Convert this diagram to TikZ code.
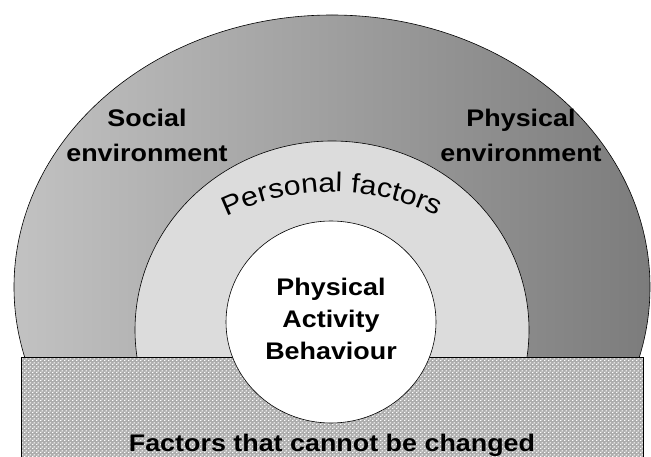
\documentclass[tikz,border=0pt]{standalone}
\usepackage{fontspec}
\setmainfont{Liberation Sans}[FakeStretch=1.12]
\usetikzlibrary{decorations.text,patterns}
\definecolor{ringL}{RGB}{194,194,194}
\definecolor{ringR}{RGB}{124,124,124}
\definecolor{midgray}{RGB}{220,220,220}
\definecolor{patbase}{RGB}{172,172,172}
\pgfdeclarepatternformonly{chkdots}{\pgfqpoint{0pt}{0pt}}{\pgfqpoint{4pt}{4pt}}{\pgfqpoint{4pt}{4pt}}{%
  \pgfpathrectangle{\pgfqpoint{0pt}{0pt}}{\pgfqpoint{1.8pt}{1.3pt}}%
  \pgfpathrectangle{\pgfqpoint{2pt}{2pt}}{\pgfqpoint{1.8pt}{1.3pt}}%
  \pgfusepath{fill}}
\tikzset{
  lbl/.style={font=\bfseries\fontsize{24}{35}\selectfont, align=center, inner sep=0pt},
  ctr/.style={font=\bfseries\fontsize{24}{31.5}\selectfont, align=center, inner sep=0pt},
  outline/.style={draw=black, line width=0.6pt}
}
\begin{document}
\begin{tikzpicture}[x=1pt,y=-1pt]
\useasboundingbox (0,0) rectangle (651,457);
\clip (0,0) rectangle (651,457);
\fill[white] (0,0) rectangle (651,457);
% outer ring (environment)
\shadedraw[outline, left color=ringL, right color=ringR] (332,287) ellipse [x radius=318, y radius=272];
% personal factors ring
\filldraw[outline, fill=midgray] (332,330) ellipse [x radius=197, y radius=189];
% factors that cannot be changed
\fill[patbase] (21,357) rectangle (643,470);
\fill[pattern=chkdots, pattern color=white] (21,357) rectangle (643,470);
\draw[outline] (21,470) -- (21,357) -- (643,357) -- (643,470);
% core
\filldraw[outline, fill=white] (331,322) ellipse [x radius=105, y radius=101];
% labels (base anchor = baseline of the last line)
\node[lbl, anchor=base] (social) at (147,162) {Social\\environment};
\node[lbl, anchor=base] (physenv) at (521,162) {Physical\\environment};
\node[ctr, anchor=base] (pab) at (331,359) {Physical\\Activity\\Behaviour};
\node[lbl, anchor=base] (fixed) at (332,451) {Factors that cannot be changed};
\path[decorate, decoration={text along path, text align=center,
  text={|\fontsize{27}{27}\selectfont|Personal factors}}]
  (332,434) ++(-150:242) arc[start angle=-150, end angle=-30, radius=242];
\end{tikzpicture}
\end{document}
